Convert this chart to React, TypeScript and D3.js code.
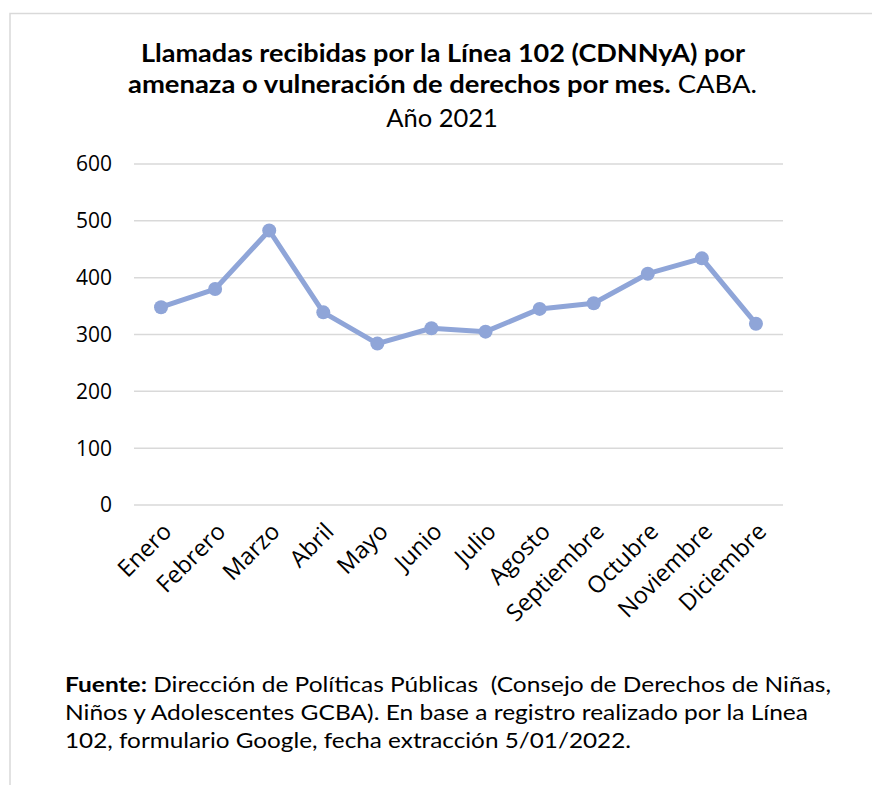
import React from 'react';
import * as d3 from 'd3';

const months = ['Enero', 'Febrero', 'Marzo', 'Abril', 'Mayo', 'Junio', 'Julio', 'Agosto', 'Septiembre', 'Octubre', 'Noviembre', 'Diciembre'];
const llamadas = [348, 380, 483, 339, 284, 311, 305, 345, 355, 407, 434, 319];
const yTicks = [0, 100, 200, 300, 400, 500, 600];

const W = 872;
const H = 785;
const LINE_COLOR = '#8fa5d8';
const GRID = '#d9d9d9';
const TITLE_FONT = 'Lato, "Open Sans", sans-serif';
const AXIS_FONT = '"Open Sans", "Noto Sans", sans-serif';

const App = () => {
  const x = d3.scaleBand<string>().domain(months).range([134, 783]);
  const y = d3.scaleLinear().domain([0, 600]).range([505, 164]);
  const cx = (m: string) => (x(m) ?? 0) + x.bandwidth() / 2;

  const line = d3
    .line<number>()
    .x((_, i) => cx(months[i]))
    .y((d) => y(d));

  const pre = { whiteSpace: 'pre' as const };

  return (
    <svg width={W} height={H} style={{ position: 'absolute', left: 0, top: 0, background: '#fff' }}>
      {/* chart frame */}
      <rect x={10} y={13.5} width={W + 20} height={H + 20} fill="#fff" stroke={GRID} strokeWidth={1.5} />

      {/* title */}
      <g fontFamily={TITLE_FONT} fill="#000" fontSize={24.5} textAnchor="middle">
        <text x={443} y={62} fontWeight="bold" textLength={604} lengthAdjust="spacingAndGlyphs">
          Llamadas recibidas por la Línea 102 (CDNNyA) por
        </text>
        <text x={442.5} y={93} textLength={629} lengthAdjust="spacingAndGlyphs">
          <tspan fontWeight="bold">amenaza o vulneración de derechos por mes.</tspan> CABA.
        </text>
        <text x={442} y={127} fontSize={25.5}>Año 2021</text>
      </g>

      {/* grid + y axis */}
      <g>
        {yTicks.map((t) => (
          <g key={t}>
            <line x1={134} x2={783} y1={y(t)} y2={y(t)} stroke={GRID} strokeWidth={1.5} />
            <text x={112} y={y(t)} dy="0.35em" textAnchor="end" fontFamily={AXIS_FONT} fontSize={21} fill="#000">
              {t}
            </text>
          </g>
        ))}
      </g>

      {/* x labels */}
      <g fontFamily={AXIS_FONT} fontSize={23.5} fill="#000">
        {months.map((m) => (
          <text key={m} textAnchor="end" transform={`translate(${cx(m) + 12},533) rotate(-45)`}>
            {m}
          </text>
        ))}
      </g>

      {/* series */}
      <path d={line(llamadas) ?? ''} fill="none" stroke={LINE_COLOR} strokeWidth={5} strokeLinejoin="round" />
      {llamadas.map((v, i) => (
        <circle key={months[i]} cx={cx(months[i])} cy={y(v)} r={7} fill={LINE_COLOR} />
      ))}

      {/* source note */}
      <g fontFamily={TITLE_FONT} fontSize={21.5} fill="#000">
        <text x={65} y={692} style={pre} xmlSpace="preserve" textLength={766} lengthAdjust="spacingAndGlyphs">
          <tspan fontWeight="bold">Fuente:</tspan>
          {' Dirección de Políticas Públicas  (Consejo de Derechos de Niñas,'}
        </text>
        <text x={65} y={720} style={pre} textLength={743} lengthAdjust="spacingAndGlyphs">
          {'Niños y Adolescentes GCBA). En base a registro realizado por la Línea'}
        </text>
        <text x={65} y={748} style={pre} textLength={566} lengthAdjust="spacingAndGlyphs">
          {'102, formulario Google, fecha extracción 5/01/2022.'}
        </text>
      </g>
    </svg>
  );
};

export default App;
